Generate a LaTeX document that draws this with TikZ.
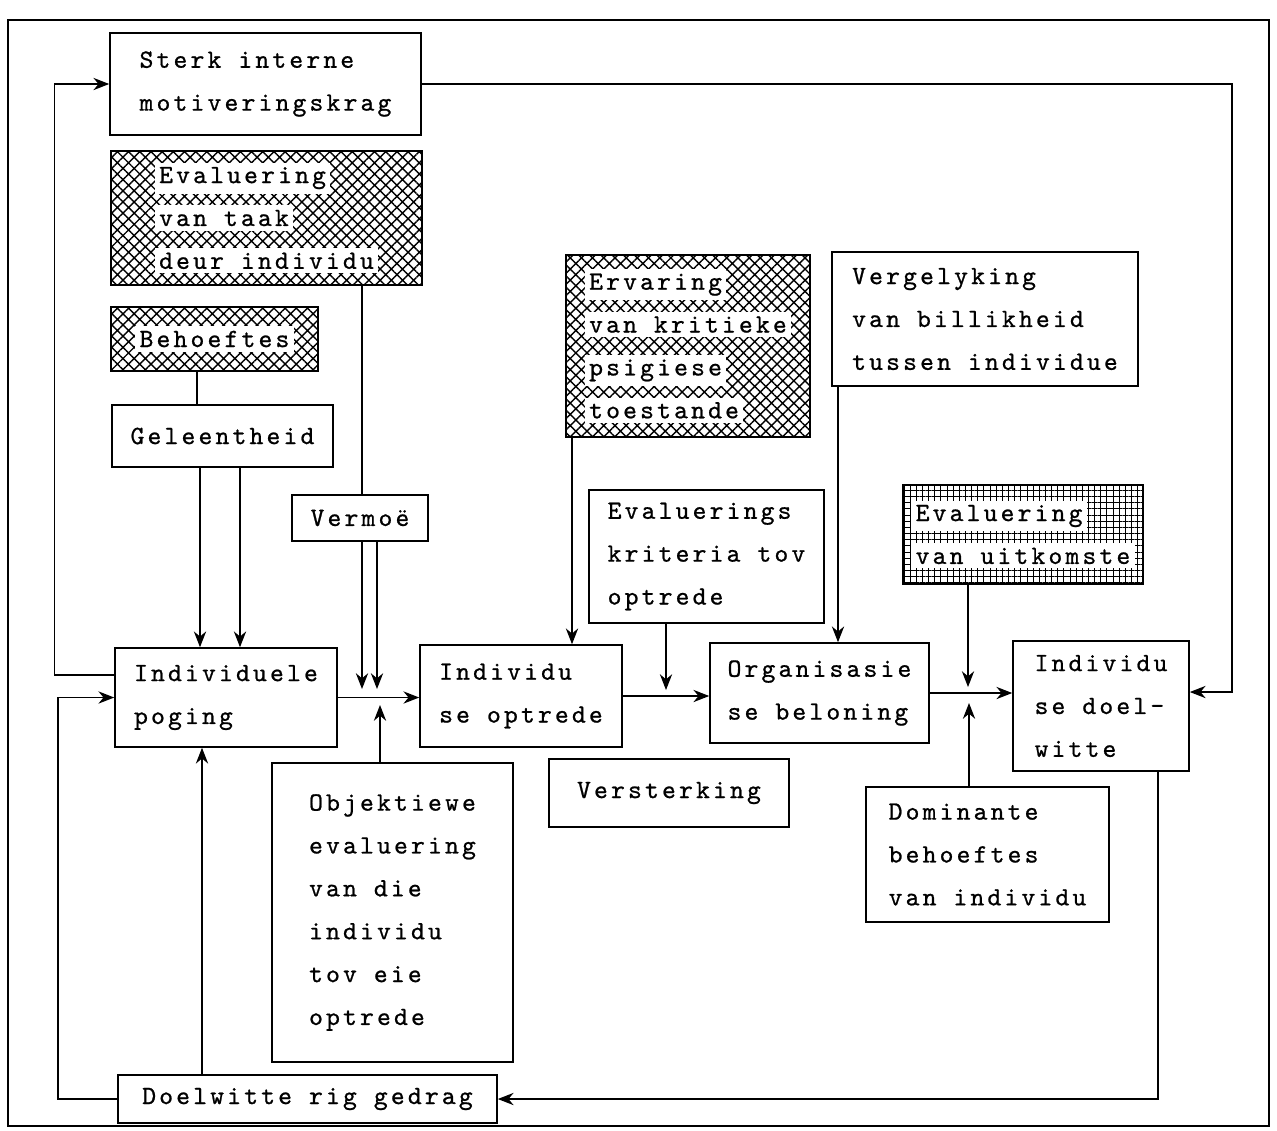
\documentclass[tikz,border=0pt]{standalone}
\usepackage{fontspec}
\usepackage{tikz}
\usetikzlibrary{arrows.meta,patterns.meta}
\newfontfamily\typefont{lmmono10-regular.otf}[LetterSpace=12,FakeBold=0.8]
\newcommand{\boxfont}{\typefont\fontsize{15pt}{24.4pt}\selectfont}
\newcommand{\wb}[1]{{\setlength{\fboxsep}{2.5pt}\colorbox{white}{#1}}}
\tikzstyle{block}=[rectangle,draw,line width=0.9pt,fill=white,align=left,
  font=\boxfont,inner sep=3pt]
\tikzstyle{hatchblock}=[block,fill=none,
  pattern={Hatch[angle=45,distance=4.5pt,line width=0.8pt]}]
\tikzstyle{gridblock}=[block,fill=none,
  pattern={Hatch[angle=0,distance=3.5pt,line width=0.5pt]}]
\tikzstyle{arrow}=[-{Stealth[length=9pt,width=7pt]},line width=0.7pt]
\tikzstyle{link}=[line width=0.7pt]
\tikzset{sz/.style 2 args={minimum width=#1*0.02cm,minimum height=#2*0.02cm}}

\begin{document}
\begin{tikzpicture}[x=0.02cm,y=-0.02cm]
  \useasboundingbox (0,0) rectangle (1277,1130);
  \draw[line width=1.4pt] (8,20) rectangle (1269,1126);

  % Linkerkolom
  \node[block,sz={311}{102}] (motiv) at (265.5,84) {Sterk interne\\motiveringskrag};
  \node[hatchblock,sz={311}{134}] (evaltaak) at (266.5,218)
    {\wb{Evaluering}\\\wb{van taak}\\\wb{deur individu}};
  \node[hatchblock,sz={207}{64}] (behoefte) at (214.5,339) {\wb{Behoeftes}};
  \node[block,sz={221}{62}] (geleent) at (222.5,436) {Geleentheid};
  \node[block,sz={136}{46}] (vermoe) at (360,518) {Vermoë};
  \node[block,sz={222}{99}] (poging) at (226,697.5) {Individuele\\poging};
  \node[block,sz={241}{299}] (objektief) at (392.5,912.5)
    {Objektiewe\\evaluering\\van die\\individu\\tov eie\\optrede};
  \node[block,sz={379}{48}] (gedrag) at (307.5,1099) {Doelwitte rig gedrag};

  % Middel
  \node[block,sz={202}{102}] (optrede) at (521,696) {Individu\\se optrede};
  \node[hatchblock,sz={244}{182}] (ervaring) at (688,346)
    {\wb{Ervaring}\\\wb{van kritieke}\\\wb{psigiese}\\\wb{toestande}};
  \node[block,sz={235}{133}] (kriteria) at (706.5,556.5) {Evaluerings\\kriteria tov\\optrede};
  \node[block,sz={240}{68}] (versterk) at (669,793) {Versterking};
  \node[block,sz={219}{100}] (beloning) at (819.5,693) {Organisasie\\se beloning};

  % Regterkolom
  \node[block,sz={306}{134}] (vergelyk) at (985,319)
    {Vergelyking\\van billikheid\\tussen individue};
  \node[gridblock,sz={240}{99}] (uitkoms) at (1023,534.5)
    {\wb{Evaluering}\\\wb{van uitkomste}};
  \node[block,sz={176}{130}] (doelw) at (1101,706) {Individu\\se doel-\\witte};
  \node[block,sz={243}{135}] (dominant) at (987.5,854.5)
    {Dominante\\behoeftes\\van individu};

  % Aansluitpunte
  \coordinate (va) at (362,689);
  \coordinate (vb) at (377,689);
  \coordinate (ob) at (380,705);
  \coordinate (kb) at (666,690);
  \coordinate (ua) at (968,687);
  \coordinate (da) at (969,703);

  % Pyle
  \draw[arrow] (poging.east) -- (poging.east -| optrede.west);
  \draw[arrow] (optrede.east) -- (optrede.east -| beloning.west);
  \draw[arrow] (beloning.east) -- (beloning.east -| doelw.west);
  \draw[link] (behoefte.south -| 197,0) -- (geleent.north -| 197,0);
  \draw[arrow] (geleent.south -| 200,0) -- (poging.north -| 200,0);
  \draw[arrow] (geleent.south -| 240,0) -- (poging.north -| 240,0);
  \draw[link] (evaltaak.south -| va) -- (vermoe.north -| va);
  \draw[arrow] (vermoe.south -| va) -- (va);
  \draw[arrow] (vermoe.south -| vb) -- (vb);
  \draw[arrow] (objektief.north -| ob) -- (ob);
  \draw[arrow] (gedrag.north -| 202,0) -- (poging.south -| 202,0);
  \draw[arrow] (gedrag.west) -- (gedrag.west -| 58,0) |- (poging.west);
  \draw[arrow] ([yshift=0.45cm]poging.west) -- ++(-60,0) |- (motiv.west);
  \draw[arrow] (motiv.east) -- (motiv.east -| 1232,0) |- ([yshift=0.28cm]doelw.east);
  \draw[arrow] (doelw.south -| 1158,0) |- (gedrag.east);
  \draw[arrow] (ervaring.south -| 572,0) -- (optrede.north -| 572,0);
  \draw[arrow] (kriteria.south -| kb) -- (kb);
  \draw[arrow] (vergelyk.south -| 838,0) -- (beloning.north -| 838,0);
  \draw[arrow] (uitkoms.south -| ua) -- (ua);
  \draw[arrow] (dominant.north -| da) -- (da);

\end{tikzpicture}
\end{document}
